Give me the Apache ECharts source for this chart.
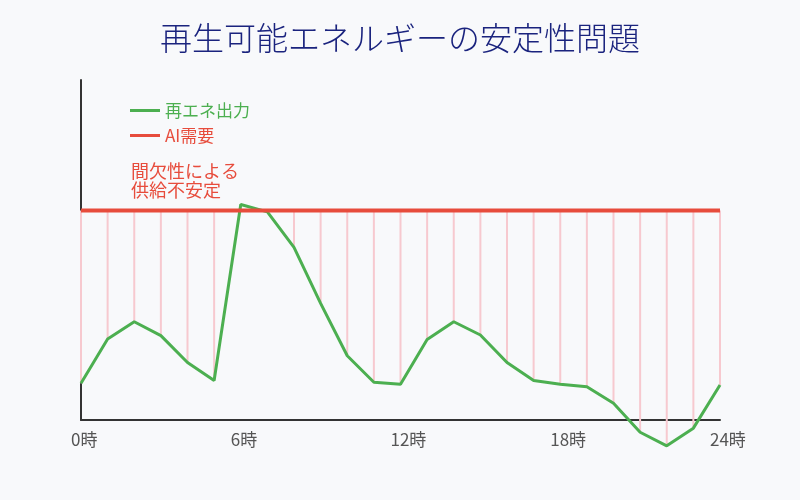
<!DOCTYPE html>
<html>
<head>
<meta charset="utf-8">
<script src="https://cdn.jsdelivr.net/npm/echarts@6/dist/echarts.min.js"></script>
<style>
html,body{margin:0;padding:0;background:#f8f9fb;}
#c{width:800px;height:500px;}
</style>
</head>
<body>
<div id="c"></div>
<script>
const hours = [0,1,2,3,4,5,6,7,8,9,10,11,12,13,14,15,16,17,18,19,20,21,22,23,24];
const renewable = [10.8,23.8,28.9,24.8,16.9,11.6,63.4,61.2,50.8,34.3,18.9,11.1,10.5,23.7,28.9,25.0,16.9,11.6,10.5,9.8,4.9,-3.6,-7.6,-2.4,10.3];
const demand = [61.6,61.6,61.6,61.6,61.6,61.6,61.6,61.6,61.6,61.6,61.6,61.6,61.6,61.6,61.6,61.6,61.6,61.6,61.6,61.6,61.6,61.6,61.6,61.6,61.6];
const xTicks = [0,6,12,18,24];
const titleText = '再生可能エネルギーの安定性問題';
const seriesNames = ['再エネ出力','AI需要'];
const noteText = '間欠性による\n供給不安定';

const FONT = '"Noto Sans CJK JP", "Noto Sans", sans-serif';
const GREEN = '#4caf50', RED = '#e74c3c', PINK = '#f7c9cf';

const chart = echarts.init(document.getElementById('c'));
chart.setOption({
  backgroundColor: '#f8f9fb',
  textStyle: {fontFamily: FONT},
  title: {
    text: titleText, left: 'center', top: 17,
    textStyle: {fontSize: 32, fontWeight: 300, color: '#1a237e', fontFamily: FONT}
  },
  legend: {
    orient: 'vertical', left: 130, top: 102, itemGap: 8, padding: 0,
    icon: 'rect', itemWidth: 30, itemHeight: 3,
    textStyle: {fontSize: 17, fontFamily: FONT},
    data: [
      {name: seriesNames[0], textStyle: {color: GREEN}},
      {name: seriesNames[1], textStyle: {color: RED}}
    ]
  },
  graphic: [{
    type: 'text', left: 131, top: 162,
    style: {text: noteText, fill: RED, font: '18px ' + FONT, lineHeight: 19}
  }],
  grid: [
    {left: 81, right: 80, top: 80, bottom: 80},
    {left: 71, right: 90, top: 80, bottom: 80}
  ],
  xAxis: [
    {type: 'value', gridIndex: 0, min: 0, max: 24, interval: 6,
     axisLine: {show: true, lineStyle: {color: '#333', width: 2}},
     axisTick: {show: false}, axisLabel: {show: false}, splitLine: {show: false}},
    {type: 'value', gridIndex: 1, min: 0, max: 24, interval: 6,
     axisLine: {show: false}, axisTick: {show: false}, splitLine: {show: false},
     axisLabel: {show: true, align: 'left', margin: 11, fontSize: 17, color: '#555', fontFamily: FONT,
       customValues: xTicks,
       formatter: v => v + '時'}}
  ],
  yAxis: [
    {type: 'value', gridIndex: 0, min: 0, max: 100,
     axisLine: {show: true, lineStyle: {color: '#333', width: 2}},
     axisTick: {show: false}, axisLabel: {show: false}, splitLine: {show: false}},
    {type: 'value', gridIndex: 1, min: 0, max: 100, show: false}
  ],
  series: [
    {
      type: 'custom', name: 'gap', xAxisIndex: 0, yAxisIndex: 0, clip: false, z: 1,
      silent: true,
      data: hours.map((h, i) => [h, renewable[i], demand[i]]),
      renderItem: (params, api) => {
        const p1 = api.coord([api.value(0), api.value(1)]);
        const p2 = api.coord([api.value(0), api.value(2)]);
        return {type: 'line', shape: {x1: p1[0], y1: p1[1], x2: p2[0], y2: p2[1]},
                style: {stroke: PINK, lineWidth: 2}};
      }
    },
    {
      type: 'line', name: seriesNames[0], xAxisIndex: 0, yAxisIndex: 0, clip: false, z: 3,
      data: hours.map((h, i) => [h, renewable[i]]),
      symbol: 'none', color: GREEN, lineStyle: {color: GREEN, width: 3}
    },
    {
      type: 'line', name: seriesNames[1], xAxisIndex: 0, yAxisIndex: 0, clip: false, z: 4,
      data: hours.map((h, i) => [h, demand[i]]),
      symbol: 'none', color: RED, lineStyle: {color: RED, width: 4}
    }
  ],
  animation: false
});
</script>
</body>
</html>
